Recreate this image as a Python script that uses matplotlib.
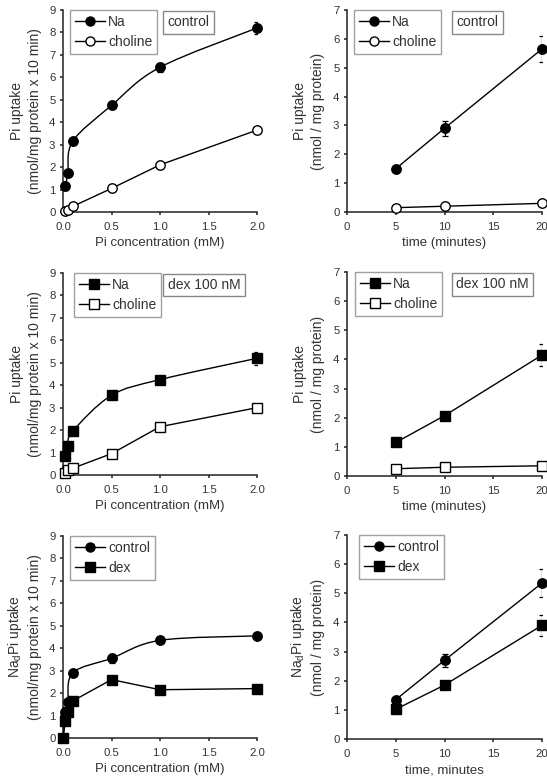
import matplotlib.pyplot as plt
from matplotlib.path import Path
from matplotlib.patches import PathPatch

plt.rcParams["font.family"] = ["Liberation Sans", "DejaVu Sans"]
plt.rcParams["mathtext.fontset"] = "custom"
plt.rcParams["mathtext.rm"] = "Liberation Sans"

TEXT = "#333333"

# concentration series (mM)
conc = [0.025, 0.05, 0.1, 0.5, 1.0, 2.0]
conc0 = [0.0, 0.025, 0.05, 0.1, 0.5, 1.0, 2.0]
# time series (minutes)
time = [5, 10, 20]

# control, concentration
ctl_na = [1.15, 1.75, 3.15, 4.75, 6.45, 8.2]
ctl_na_err = [0.15, 0.12, 0.15, 0.1, 0.2, 0.25]
ctl_ch = [0.05, 0.1, 0.25, 1.05, 2.1, 3.65]
ctl_ch_err = [0.05, 0.05, 0.05, 0.05, 0.1, 0.12]

# control, time
ctl_na_t = [1.5, 2.9, 5.65]
ctl_na_t_err = [0.06, 0.25, 0.45]
ctl_ch_t = [0.15, 0.2, 0.3]
ctl_ch_t_err = [0.03, 0.03, 0.04]

# dex, concentration
dex_na = [0.85, 1.3, 1.95, 3.55, 4.25, 5.2]
dex_na_err = [0.1, 0.1, 0.15, 0.08, 0.08, 0.3]
dex_ch = [0.1, 0.2, 0.3, 0.95, 2.15, 3.0]
dex_ch_err = [0.05, 0.05, 0.05, 0.08, 0.08, 0.1]

# dex, time
dex_na_t = [1.15, 2.07, 4.15]
dex_na_t_err = [0.06, 0.12, 0.37]
dex_ch_t = [0.25, 0.3, 0.35]
dex_ch_t_err = [0.03, 0.03, 0.03]

# Na-dependent, concentration
nad_ctl = [0.0, 1.15, 1.6, 2.9, 3.55, 4.35, 4.55]
nad_ctl_err = [0.0, 0.1, 0.1, 0.12, 0.2, 0.08, 0.12]
nad_dex = [0.0, 0.75, 1.15, 1.65, 2.6, 2.15, 2.2]
nad_dex_err = [0.0, 0.12, 0.15, 0.15, 0.12, 0.08, 0.15]

# Na-dependent, time
nad_ctl_t = [1.35, 2.7, 5.35]
nad_ctl_t_err = [0.1, 0.22, 0.48]
nad_dex_t = [1.02, 1.85, 3.9]
nad_dex_t_err = [0.06, 0.1, 0.37]

LEFT_YLABEL = "Pi uptake\n(nmol/mg protein x 10 min)"
RIGHT_YLABEL = "Pi uptake\n(nmol / mg protein)"
NAD_LEFT_YLABEL = "Na$_\\mathregular{d}$Pi uptake\n(nmol/mg protein x 10 min)"
NAD_RIGHT_YLABEL = "Na$_\\mathregular{d}$Pi uptake\n(nmol / mg protein)"


def smooth_line(ax, xs, ys):
    # Excel-like smoothed connector: Catmull-Rom converted to cubic Bezier
    verts = [(xs[0], ys[0])]
    codes = [Path.MOVETO]
    n = len(xs)
    for i in range(n - 1):
        x0, y0 = (xs[i - 1], ys[i - 1]) if i > 0 else (xs[i], ys[i])
        x1, y1 = xs[i], ys[i]
        x2, y2 = xs[i + 1], ys[i + 1]
        x3, y3 = (xs[i + 2], ys[i + 2]) if i + 2 < n else (x2, y2)
        c1 = (x1 + (x2 - x0) / 6, y1 + (y2 - y0) / 6)
        c2 = (x2 - (x3 - x1) / 6, y2 - (y3 - y1) / 6)
        verts += [c1, c2, (x2, y2)]
        codes += [Path.CURVE4] * 3
    ax.add_patch(PathPatch(Path(verts, codes), facecolor="none", edgecolor="black", lw=1.0, zorder=2))


def series(ax, xs, ys, err, marker, filled, label, smooth=False):
    face = "black" if filled else "white"
    if smooth:
        smooth_line(ax, xs, ys)
        ls = "none"
    else:
        ls = "-"
    ax.errorbar(xs, ys, yerr=err, fmt="none", ecolor="black", elinewidth=0.9, capsize=2.5, capthick=0.9, zorder=3)
    ax.plot(xs, ys, linestyle=ls, color="black", lw=1.0, marker=marker, markersize=6.8,
            markerfacecolor=face, markeredgecolor="black", markeredgewidth=1.0, zorder=4, clip_on=False)
    # legend proxy with line through marker
    ax.plot([], [], linestyle="-", color="black", lw=1.0, marker=marker, markersize=6.5,
            markerfacecolor=face, markeredgecolor="black", label=label)


def style_axes(ax, xlim, xticks, xtick_labels, ylim, yticks, xlabel, ylabel, labelpad):
    ax.set_xlim(*xlim)
    ax.set_ylim(*ylim)
    ax.set_xticks(xticks)
    ax.set_xticklabels(xtick_labels)
    ax.set_yticks(yticks)
    for side in ("top", "right"):
        ax.spines[side].set_visible(False)
    for side in ("left", "bottom"):
        ax.spines[side].set_linewidth(1.1)
        ax.spines[side].set_color("#222222")
    ax.tick_params(direction="out", length=2.5, width=1.1, colors="#222222", labelcolor=TEXT, labelsize=8.2, pad=3)
    ax.tick_params(axis="x", pad=4.5)
    ax.set_xlabel(xlabel, fontsize=9.5, color=TEXT, labelpad=4)
    ax.set_ylabel(ylabel, fontsize=10, color=TEXT, labelpad=labelpad, linespacing=1.4)


def add_legend(ax, x0):
    leg = ax.legend(loc="upper left", bbox_to_anchor=(x0, 1.0), borderaxespad=0, fontsize=10,
                    frameon=True, fancybox=False, handlelength=2.2, handletextpad=0.2,
                    labelspacing=0.42, borderpad=0.35)
    leg.get_frame().set_edgecolor("#888888")
    leg.get_frame().set_linewidth(1.0)
    for t in leg.get_texts():
        t.set_color(TEXT)


def add_tag(ax, x, text):
    ax.text(x, 0.975, text, transform=ax.transAxes, ha="left", va="top", fontsize=10, color=TEXT,
            bbox=dict(boxstyle="square,pad=0.32", facecolor="white", edgecolor="#888888", lw=1.0))


fig = plt.figure(figsize=(5.47, 7.82), dpi=100)

conc_ticks = [0.0, 0.5, 1.0, 1.5, 2.0]
conc_labels = ["0.0", "0.5", "1.0", "1.5", "2.0"]
time_ticks = [0, 5, 10, 15, 20]
time_labels = ["0", "5", "10", "15", "20"]

lx, lw = 0.1152, 0.3547
rx, rw = 0.6344, 0.3565
h = 0.2583

# row 1: control
ax = fig.add_axes([lx, 0.7289, lw, h])
series(ax, conc, ctl_na, ctl_na_err, "o", True, "Na", smooth=True)
series(ax, conc, ctl_ch, ctl_ch_err, "o", False, "choline")
style_axes(ax, (0, 2.0), conc_ticks, conc_labels, (0, 9), range(10), "Pi concentration (mM)", LEFT_YLABEL, 5)
add_legend(ax, 0.036)
add_tag(ax, 0.54, "control")

ax = fig.add_axes([rx, 0.7289, rw, h])
series(ax, time, ctl_na_t, ctl_na_t_err, "o", True, "Na")
series(ax, time, ctl_ch_t, ctl_ch_t_err, "o", False, "choline")
style_axes(ax, (0, 20), time_ticks, time_labels, (0, 7), range(8), "time (minutes)", RIGHT_YLABEL, 5.5)
add_legend(ax, 0.036)
add_tag(ax, 0.56, "control")

# row 2: dex 100 nM
ax = fig.add_axes([lx, 0.3926, lw, h])
series(ax, conc, dex_na, dex_na_err, "s", True, "Na", smooth=True)
series(ax, conc, dex_ch, dex_ch_err, "s", False, "choline")
style_axes(ax, (0, 2.0), conc_ticks, conc_labels, (0, 9), range(10), "Pi concentration (mM)", LEFT_YLABEL, 5)
add_legend(ax, 0.055)
add_tag(ax, 0.54, "dex 100 nM")

ax = fig.add_axes([rx, 0.3913, rw, 0.2609])
series(ax, time, dex_na_t, dex_na_t_err, "s", True, "Na")
series(ax, time, dex_ch_t, dex_ch_t_err, "s", False, "choline")
style_axes(ax, (0, 20), time_ticks, time_labels, (0, 7), range(8), "time (minutes)", RIGHT_YLABEL, 5.5)
add_legend(ax, 0.04)
add_tag(ax, 0.56, "dex 100 nM")

# row 3: Na-dependent
ax = fig.add_axes([lx, 0.0563, lw, h])
series(ax, conc0, nad_ctl, nad_ctl_err, "o", True, "control", smooth=True)
series(ax, conc0, nad_dex, nad_dex_err, "s", True, "dex")
style_axes(ax, (0, 2.0), conc_ticks, conc_labels, (0, 9), range(10), "Pi concentration (mM)", NAD_LEFT_YLABEL, 5)
add_legend(ax, 0.036)

ax = fig.add_axes([rx, 0.0550, rw, 0.2609])
series(ax, time, nad_ctl_t, nad_ctl_t_err, "o", True, "control")
series(ax, time, nad_dex_t, nad_dex_t_err, "s", True, "dex")
style_axes(ax, (0, 20), time_ticks, time_labels, (0, 7), range(8), "time, minutes", NAD_RIGHT_YLABEL, 5.5)
add_legend(ax, 0.06)

fig.savefig("out.png", dpi=100)
